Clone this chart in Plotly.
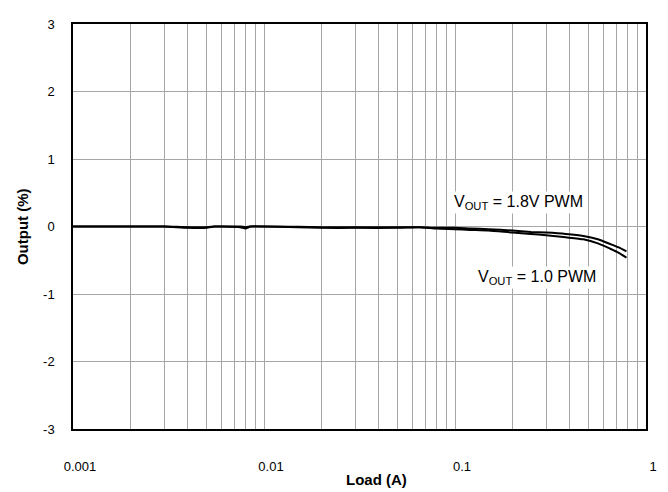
import plotly.graph_objects as go

# Data
load_a = [0.001, 0.002, 0.003, 0.004, 0.005, 0.0055, 0.006, 0.0075, 0.008, 0.0085,
          0.01, 0.015, 0.02, 0.03, 0.05, 0.065, 0.08, 0.1, 0.12, 0.15, 0.2, 0.25,
          0.3, 0.38, 0.47, 0.56, 0.65, 0.72, 0.79]
out_18v = [0, 0, 0, -0.01, -0.01, 0, 0, 0, -0.01, 0,
           0, -0.005, -0.01, -0.01, -0.01, -0.01, -0.02, -0.02, -0.03, -0.04, -0.06, -0.08,
           -0.09, -0.11, -0.14, -0.19, -0.26, -0.31, -0.37]
out_10v = [0, 0, 0, -0.02, -0.02, 0, 0, -0.01, -0.03, 0,
           0, -0.01, -0.02, -0.02, -0.02, -0.01, -0.03, -0.04, -0.05, -0.06, -0.09, -0.11,
           -0.13, -0.16, -0.19, -0.25, -0.33, -0.39, -0.46]

x_tickvals = [0.001, 0.002, 0.003, 0.004, 0.005, 0.006, 0.007, 0.008, 0.009,
              0.01, 0.02, 0.03, 0.04, 0.05, 0.06, 0.07, 0.08, 0.09,
              0.1, 0.2, 0.3, 0.4, 0.5, 0.6, 0.7, 0.8, 0.9, 1]
x_ticktext = ["0.001", "", "", "", "", "", "", "", "",
              "0.01", "", "", "", "", "", "", "", "",
              "0.1", "", "", "", "", "", "", "", "", "1"]
y_tickvals = [-3, -2, -1, 0, 1, 2, 3]
y_ticktext = ["-3", "-2", "-1", "0", "1", "2", "3"]

font = "Liberation Sans, Arial, sans-serif"

fig = go.Figure()
fig.add_trace(go.Scatter(x=load_a, y=out_10v, mode="lines", name="VOUT = 1.0 PWM",
                         line=dict(color="black", width=2, shape="spline", smoothing=0.6)))
fig.add_trace(go.Scatter(x=load_a, y=out_18v, mode="lines", name="VOUT = 1.8V PWM",
                         line=dict(color="black", width=2, shape="spline", smoothing=0.6)))

fig.update_layout(
    width=660, height=484,
    margin=dict(l=65, r=22, t=9, b=63),
    paper_bgcolor="white", plot_bgcolor="white",
    showlegend=False,
    font=dict(family=font, size=13, color="black"),
    xaxis=dict(type="log", range=[-3, 0], tickvals=x_tickvals, ticktext=x_ticktext,
               showgrid=True, gridcolor="#a6a6a6", gridwidth=1,
               showline=True, linecolor="black", linewidth=1.5, mirror=True,
               ticks="", ticklabelstandoff=25, ticklabelshift=7, zeroline=False,
               tickfont=dict(size=13)),
    yaxis=dict(range=[-3, 3], tickvals=y_tickvals, ticktext=y_ticktext,
               showgrid=True, gridcolor="#a6a6a6", gridwidth=1,
               showline=True, linecolor="black", linewidth=1.5, mirror=True,
               ticks="", ticklabelstandoff=14, zeroline=False,
               tickfont=dict(size=13)),
    annotations=[
        dict(x=0.529, y=-0.124, xref="paper", yref="paper", text="<b>Load (A)</b>",
             showarrow=False, font=dict(size=15), xanchor="center", yanchor="middle"),
        dict(x=-0.088, y=0.5, xref="paper", yref="paper", text="<b>Output (%)</b>",
             showarrow=False, font=dict(size=15), textangle=-90,
             xanchor="center", yanchor="middle"),
        dict(x=-0.669, y=0.36, xref="x", yref="y", text="V<sub>OUT</sub> = 1.8V PWM",
             showarrow=False, font=dict(size=16), bgcolor="white",
             xanchor="center", yanchor="middle"),
        dict(x=-0.569, y=-0.76, xref="x", yref="y", text="V<sub>OUT</sub> = 1.0 PWM",
             showarrow=False, font=dict(size=16), bgcolor="white",
             xanchor="center", yanchor="middle"),
    ],
)

fig.write_html("out.html")
